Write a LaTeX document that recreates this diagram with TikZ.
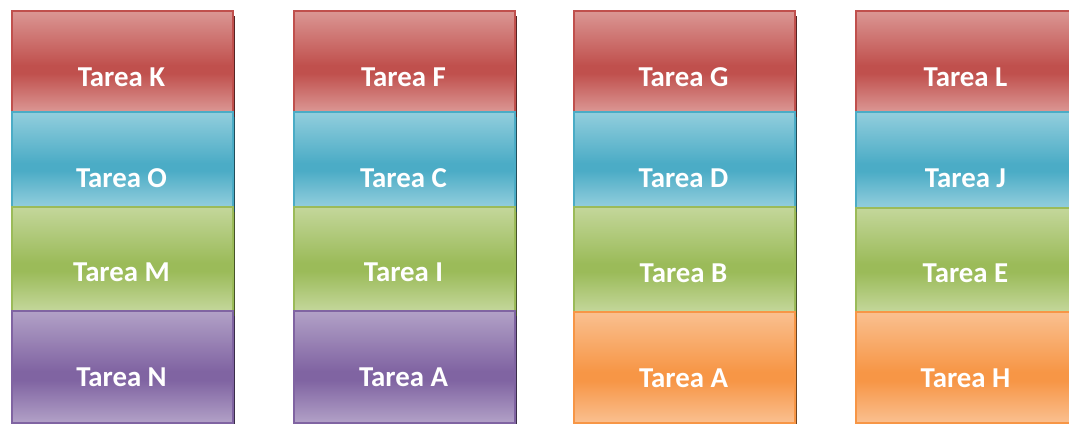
\documentclass[tikz,border=0pt]{standalone}
\usepackage{fontspec}
\setmainfont{Carlito}
\usetikzlibrary{shadows}

% dark and light tone of each colour
\definecolor{rojoO}{HTML}{C0504D}    \definecolor{rojoC}{HTML}{DB9794}
\definecolor{azulO}{HTML}{4BACC6}    \definecolor{azulC}{HTML}{93CEDD}
\definecolor{verdeO}{HTML}{9BBB59}   \definecolor{verdeC}{HTML}{C4D79B}
\definecolor{moradoO}{HTML}{8064A2}  \definecolor{moradoC}{HTML}{B2A1C7}
\definecolor{naranjaO}{HTML}{F79646} \definecolor{naranjaC}{HTML}{FAC090}

% light - dark - light, dark band a little below the middle
\newcommand{\bandas}[3]{%
  \pgfdeclareverticalshading{#1}{100bp}{color(0bp)=(#3); color(25bp)=(#3);
    color(44bp)=(#2); color(48bp)=(#2); color(75bp)=(#3); color(100bp)=(#3)}}
\bandas{rojo}{rojoO}{rojoC}
\bandas{azul}{azulO}{azulC}
\bandas{verde}{verdeO}{verdeC}
\bandas{morado}{moradoO}{moradoC}
\bandas{naranja}{naranjaO}{naranjaC}

\def\px{0.025cm}

\tikzset{
  tarea/.style={rectangle, draw=#1O, line width=1.1pt, shading=#1, inner sep=0pt,
    anchor=north west, minimum width=221*\px,
    drop shadow={shadow xshift=1.6pt, shadow yshift=-4pt, fill=#1O!45!black, opacity=1}},
  texto/.style={text=white, font=\bfseries\fontsize{20.5}{24}\selectfont},
}

\begin{document}
\begin{tikzpicture}[x=\px, y=-\px]
\useasboundingbox (0,0) rectangle (1069,423);
\clip (0,0) rectangle (1069,423);

% first column
\node[tarea=rojo, minimum height=101*\px] (bK) at (11,10) {};
\node[tarea=azul, minimum height=95*\px] (bO) at (11,111) {};
\node[tarea=verde, minimum height=104*\px] (bM) at (11,206) {};
\node[tarea=morado, minimum height=112*\px] (bN) at (11,310) {};
\node[texto] (tK) at (121.5,77) {Tarea K};
\node[texto] (tO) at (121.5,178) {Tarea O};
\node[texto] (tM) at (121.5,272) {Tarea M};
\node[texto] (tN) at (121.5,377) {Tarea N};

% second column
\node[tarea=rojo, minimum height=101*\px] (bF) at (293,10) {};
\node[tarea=azul, minimum height=95*\px] (bC) at (293,111) {};
\node[tarea=verde, minimum height=104*\px] (bI) at (293,206) {};
\node[tarea=morado, minimum height=112*\px] (bA) at (293,310) {};
\node[texto] (tF) at (403.5,77) {Tarea F};
\node[texto] (tC) at (403.5,178) {Tarea C};
\node[texto] (tI) at (403.5,272) {Tarea I};
\node[texto] (tA) at (403.5,377) {Tarea A};

% third column
\node[tarea=rojo, minimum height=101*\px] (bG) at (573,10) {};
\node[tarea=azul, minimum height=95*\px] (bD) at (573,111) {};
\node[tarea=verde, minimum height=105*\px] (bB) at (573,206) {};
\node[tarea=naranja, minimum height=111*\px] (bA2) at (573,311) {};
\node[texto] (tG) at (683.5,77) {Tarea G};
\node[texto] (tD) at (683.5,178) {Tarea D};
\node[texto] (tB) at (683.5,273) {Tarea B};
\node[texto] (tA2) at (683.5,378) {Tarea A};

% fourth column
\node[tarea=rojo, minimum height=101*\px] (bL) at (855,10) {};
\node[tarea=azul, minimum height=96*\px] (bJ) at (855,111) {};
\node[tarea=verde, minimum height=104*\px] (bE) at (855,207) {};
\node[tarea=naranja, minimum height=111*\px] (bH) at (855,311) {};
\node[texto] (tL) at (965.5,77) {Tarea L};
\node[texto] (tJ) at (965.5,178) {Tarea J};
\node[texto] (tE) at (965.5,273) {Tarea E};
\node[texto] (tH) at (965.5,378) {Tarea H};
\end{tikzpicture}
\end{document}
